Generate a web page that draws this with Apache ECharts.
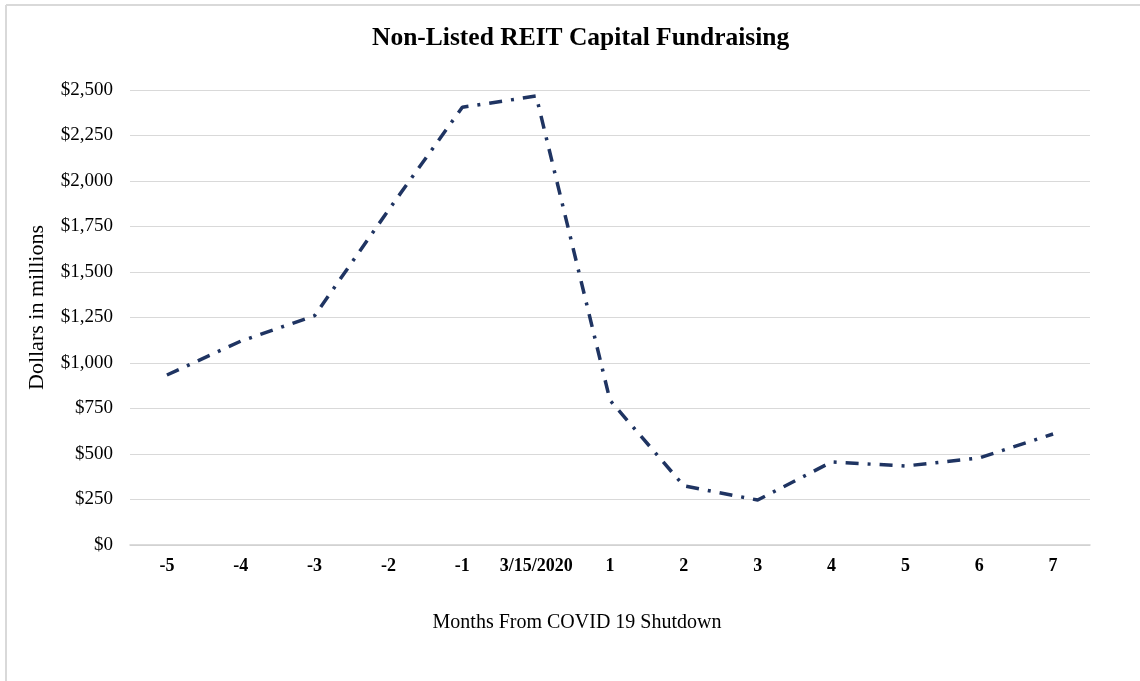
<!DOCTYPE html>
<html>
<head>
<meta charset="utf-8">
<script src="https://cdn.jsdelivr.net/npm/echarts@6/dist/echarts.min.js"></script>
<style>
html,body{margin:0;padding:0;background:#fff;}
#c{width:1140px;height:681px;}
</style>
</head>
<body>
<div id="c"></div>
<script>
var categories = ['-5','-4','-3','-2','-1','3/15/2020','1','2','3','4','5','6','7'];
var fundraising = [934, 1120, 1260, 1840, 2405, 2467, 795, 325, 247, 456, 434, 478, 610];
var yTicks = [0, 250, 500, 750, 1000, 1250, 1500, 1750, 2000, 2250, 2500];

var chart = echarts.init(document.getElementById('c'));
var serif = '"Liberation Serif", "Times New Roman", serif';
chart.setOption({
  animation: false,
  backgroundColor: '#fff',
  title: {
    text: 'Non-Listed REIT Capital Fundraising',
    left: 367, top: 20,
    textStyle: {fontFamily: serif, fontSize: 25.5, fontWeight: 'bold', color: '#000'}
  },
  graphic: [
    {type: 'line', shape: {x1: 6, y1: 5, x2: 6, y2: 681}, style: {stroke: '#d9d9d9', lineWidth: 2}},
    {type: 'line', shape: {x1: 6, y1: 5, x2: 1140, y2: 5}, style: {stroke: '#d9d9d9', lineWidth: 2}}
  ],
  grid: {left: 130, right: 50, top: 90, bottom: 136},
  xAxis: {
    type: 'category',
    data: categories,
    boundaryGap: true,
    name: 'Months From COVID 19 Shutdown',
    nameLocation: 'middle',
    nameGap: 68,
    nameTextStyle: {fontFamily: serif, fontSize: 20, color: '#000', padding: [0, 66, 0, 0]},
    axisLine: {show: true, lineStyle: {color: '#d0d0d0', width: 1.5}},
    axisTick: {show: false},
    axisLabel: {fontFamily: serif, fontSize: 18, fontWeight: 'bold', color: '#000', margin: 12, interval: 0}
  },
  yAxis: {
    type: 'value',
    min: 0, max: 2500, interval: 250,
    name: 'Dollars in millions',
    nameLocation: 'middle',
    nameGap: 82,
    nameRotate: 90,
    nameTextStyle: {fontFamily: serif, fontSize: 22, color: '#000', padding: [0, 0, 0, 20]},
    axisLine: {show: false},
    axisTick: {show: false},
    splitLine: {lineStyle: {color: '#d9d9d9', width: 1}},
    axisLabel: {
      fontFamily: serif, fontSize: 19, color: '#000', margin: 17,
      formatter: function (v) { return '$' + v.toLocaleString('en-US'); }
    }
  },
  series: [{
    type: 'line',
    data: fundraising,
    symbol: 'none',
    lineStyle: {color: '#1f3462', width: 3.5, type: [13, 9, 3, 9], cap: 'butt'}
  }]
});
</script>
</body>
</html>
